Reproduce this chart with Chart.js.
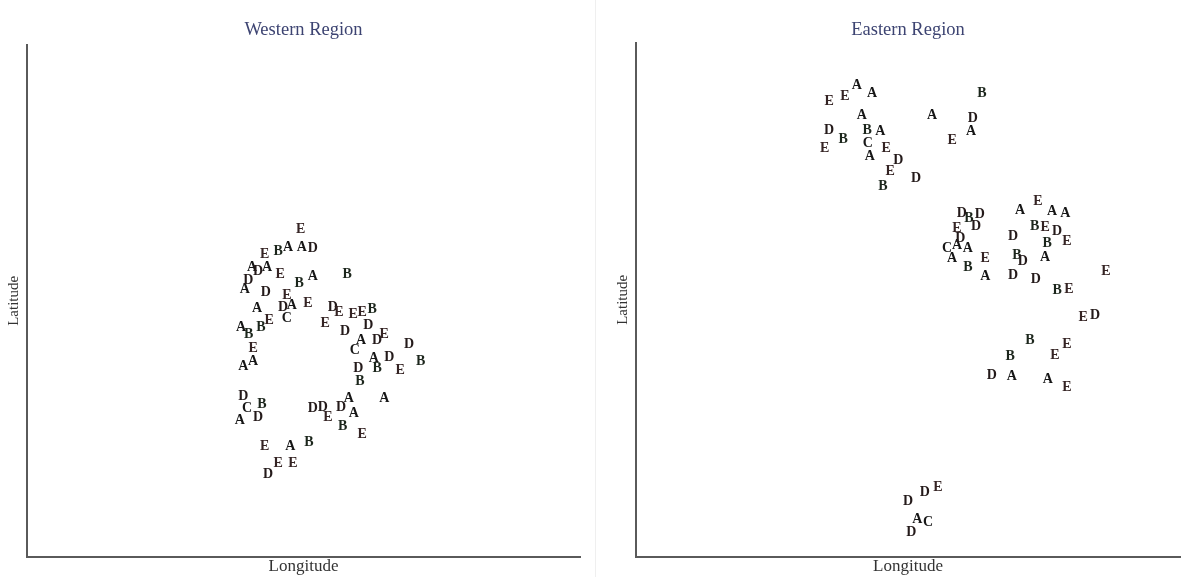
<!DOCTYPE html>
<html>
<head>
<meta charset="utf-8">
<title>Western and Eastern Region</title>
<script src="https://cdn.jsdelivr.net/npm/chart.js@4"></script>
<style>
  html, body { margin: 0; padding: 0; background: #fff; }
  body { width: 1183px; height: 577px; position: relative; overflow: hidden; }
  #west { position: absolute; left: 0; top: 0; }
  #east { position: absolute; left: 596px; top: 0; }
  .divider { position: absolute; left: 595px; top: 0; width: 1px; height: 577px; background: #efefef; }
</style>
</head>
<body>
<canvas id="west" width="595" height="577"></canvas>
<div class="divider"></div>
<canvas id="east" width="587" height="577"></canvas>
<script>
// Site codes plotted as letters; coordinates are [longitude, latitude] on a 0-100 grid
const letters = ['A', 'B', 'C', 'D', 'E'];
const letterColors = ['#161616', '#1c261c', '#181818', '#241a1a', '#352424'];

const westA = [[47.2,60.5],[49.7,60.5],[40.7,56.6],[43.4,56.6],[51.7,54.7],[39.4,52.3],[41.6,48.6],[47.9,49.2],[38.7,44.9],[60.4,42.2],[39.1,37.1],[40.9,38.1],[62.7,38.7],[38.5,26.6],[58.2,30.9],[59.1,27.9],[64.6,30.9],[47.6,21.5]];
const westB = [[45.4,59.6],[57.9,55.1],[49.2,53.5],[62.4,48.4],[42.3,44.9],[40.1,43.4],[63.3,36.7],[71.2,38.1],[60.2,34.2],[42.5,29.7],[57.1,25.4],[51.0,22.3]];
const westC = [[47.0,46.5],[59.3,40.4],[39.8,28.9]];
const westD = [[51.7,60.2],[41.8,55.7],[40.0,53.9],[43.2,51.6],[46.3,48.8],[55.3,48.8],[57.5,44.1],[61.7,45.1],[63.3,42.2],[69.1,41.4],[65.5,38.9],[59.9,36.7],[39.1,31.4],[41.8,27.3],[51.7,28.9],[53.5,29.1],[56.8,29.1],[43.6,16.0]];
const westE = [[49.5,63.9],[43.0,59.0],[45.8,55.1],[47.0,51.0],[50.8,49.4],[56.4,47.7],[59.0,47.3],[60.6,47.7],[43.8,46.1],[53.9,45.5],[64.6,43.4],[40.9,40.6],[67.5,36.3],[54.4,27.3],[60.6,23.8],[43.0,21.5],[45.4,18.2],[48.1,18.2]];

const eastA = [[40.6,91.8],[43.4,90.2],[41.5,85.9],[54.4,85.9],[61.6,82.8],[44.9,82.8],[43.0,77.9],[59.0,60.5],[61.0,60.0],[58.1,58.0],[64.2,54.5],[70.6,67.4],[76.5,67.2],[78.9,66.8],[75.2,58.2],[69.1,35.0],[75.7,34.6],[51.7,7.2]];
const eastB = [[63.6,90.2],[38.1,81.3],[42.5,83.0],[45.4,72.1],[61.2,65.8],[61.0,56.3],[73.3,64.3],[75.6,60.9],[70.0,58.6],[77.4,51.8],[72.4,42.0],[68.8,38.9]];
const eastC = [[42.6,80.5],[57.2,60.0],[53.7,6.6]];
const eastD = [[61.9,85.4],[35.5,83.0],[48.2,77.1],[51.5,73.6],[59.9,66.8],[63.2,66.6],[62.5,64.3],[59.6,61.9],[77.4,63.3],[69.3,62.3],[71.1,57.4],[69.3,54.7],[73.5,53.9],[84.4,46.9],[65.4,35.2],[50.0,10.7],[53.1,12.5],[50.6,4.7]];
const eastE = [[35.5,88.7],[38.4,89.6],[34.7,79.5],[46.0,79.5],[58.1,81.1],[46.7,75.0],[59.0,63.9],[64.2,58.0],[73.9,69.1],[75.2,64.1],[79.2,61.3],[79.6,52.1],[86.4,55.5],[82.2,46.5],[79.2,41.4],[77.0,39.1],[79.2,33.0],[55.5,13.5]];

const serif = '"Liberation Serif", "DejaVu Serif", serif';

// Draws each point as its site letter at the position the scales give it
const letterMarks = {
  id: 'letterMarks',
  afterDatasetsDraw(chart) {
    const ctx = chart.ctx;
    ctx.save();
    ctx.font = 'bold 14px ' + serif;
    ctx.textAlign = 'center';
    ctx.textBaseline = 'middle';
    chart.data.datasets.forEach((ds, i) => {
      const meta = chart.getDatasetMeta(i);
      ctx.fillStyle = ds.letterColor;
      meta.data.forEach(pt => ctx.fillText(ds.label, pt.x, pt.y));
    });
    ctx.restore();
  }
};

function toPoints(pairs) {
  return pairs.map(p => ({ x: p[0], y: p[1] }));
}

function buildDatasets(groups) {
  return groups.map((g, i) => ({
    label: letters[i],
    data: toPoints(g),
    letterColor: letterColors[i],
    pointRadius: 0,
    pointHoverRadius: 0,
    showLine: false
  }));
}

function makeChart(id, titleText, groups, pad, titleBottom) {
  const axisLine = { display: true, color: '#5a5a5a', width: 2 };
  return new Chart(document.getElementById(id), {
    type: 'scatter',
    data: { datasets: buildDatasets(groups) },
    options: {
      responsive: false,
      animation: false,
      events: [],
      layout: { padding: pad },
      plugins: {
        legend: { display: false },
        tooltip: { enabled: false },
        title: {
          display: true,
          fullSize: false,
          text: titleText,
          color: '#3d4472',
          font: { family: serif, size: 18.5, weight: 'normal' },
          padding: { top: 18.9, bottom: titleBottom }
        }
      },
      scales: {
        x: {
          type: 'linear',
          min: 0,
          max: 100,
          grid: { display: false, drawTicks: false },
          ticks: { display: false },
          border: axisLine,
          title: {
            display: true,
            text: 'Longitude',
            color: '#333',
            font: { family: serif, size: 17 },
            padding: { top: 0, bottom: 0 }
          }
        },
        y: {
          type: 'linear',
          min: 0,
          max: 100,
          grid: { display: false, drawTicks: false },
          ticks: { display: false },
          border: axisLine,
          title: {
            display: true,
            text: 'Latitude',
            color: '#333',
            font: { family: serif, size: 15 },
            padding: { top: 5, bottom: 4 }
          }
        }
      }
    },
    plugins: [letterMarks]
  });
}

makeChart('west', 'Western Region', [westA, westB, westC, westD, westE], { left: 0, right: 15, top: 0, bottom: 0 }, 3.9);
makeChart('east', 'Eastern Region', [eastA, eastB, eastC, eastD, eastE], { left: 13, right: 3, top: 0, bottom: 0 }, 1.9);
</script>
</body>
</html>
